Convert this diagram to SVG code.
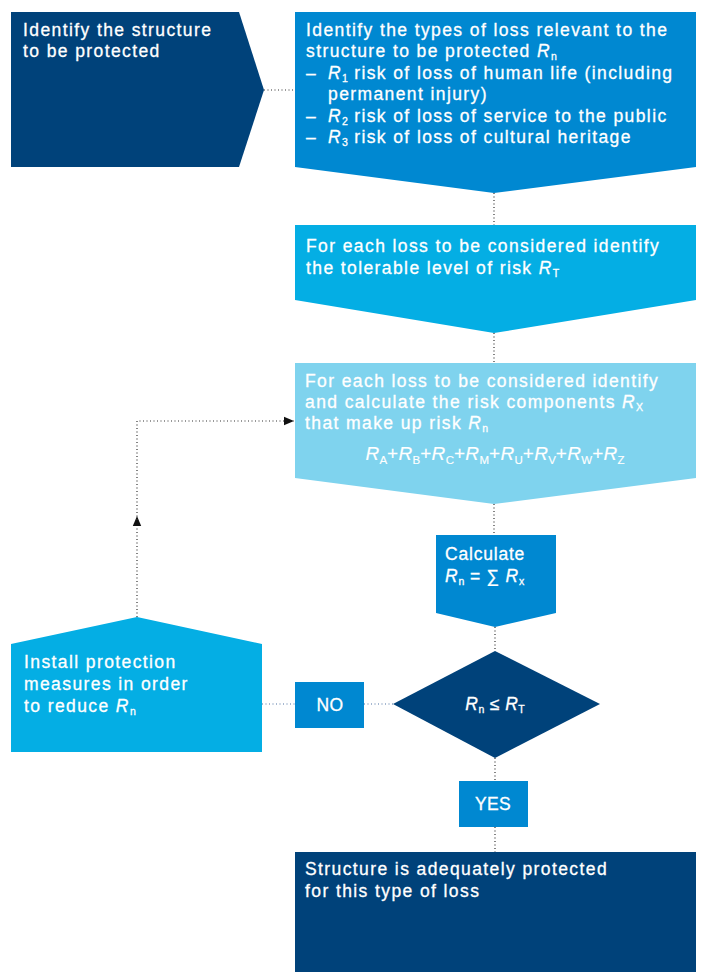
<svg xmlns="http://www.w3.org/2000/svg" width="702" height="972" viewBox="0 0 702 972">
<style>
text{font-family:"Liberation Sans",Arial,sans-serif;font-size:17.5px;fill:#fff;stroke:#fff;stroke-width:0.3px;letter-spacing:1.4px}
.i{font-style:italic}
.s{font-size:10.5px;letter-spacing:0}
.navy{fill:#00427A}
.mid{fill:#0088D1}
.lt{fill:#04AEE4}
.pale{fill:#7FD3EE}
.dot{fill:none;stroke:#333;stroke-width:1.2;stroke-dasharray:1 2.5}
.dotb{fill:none;stroke:#4F73A3;stroke-width:1.2;stroke-dasharray:1 2.5}
</style>
<defs>
<marker id="ah" viewBox="0 0 10 10" refX="10" refY="5" markerWidth="10" markerHeight="10" markerUnits="userSpaceOnUse" orient="auto">
<path d="M0,0.8 L10,5 L0,9.2 Z" fill="#111"/>
</marker>
</defs>
<g id="connectors">
<line class="dot" x1="264" y1="90" x2="295" y2="90"/>
<line class="dot" x1="494" y1="193" x2="494" y2="225"/>
<line class="dot" x1="494" y1="333" x2="494" y2="363"/>
<line class="dot" x1="494" y1="504" x2="494" y2="535"/>
<line class="dot" x1="495" y1="627" x2="495" y2="651"/>
<line class="dot" x1="495" y1="758" x2="495" y2="781"/>
<line class="dot" x1="495" y1="827" x2="495" y2="852"/>
<line class="dotb" x1="364" y1="704" x2="393" y2="704"/>
<line class="dotb" x1="262" y1="704" x2="295" y2="704"/>
<line class="dot" x1="137" y1="617" x2="137" y2="516" marker-end="url(#ah)"/>
<polyline class="dot" points="137,520 137,421 294,421" marker-end="url(#ah)"/>
</g>
<g id="n1">
<polygon class="navy" points="11,12 239,12 264,90 239,167 11,167"/>
<text x="23" y="36">Identify the structure</text>
<text x="23" y="57">to be protected</text>
</g>
<g id="n2">
<polygon class="mid" points="295,12 696,12 696,167 494,193 295,167"/>
<text x="306" y="36">Identify the types of loss relevant to the</text>
<text x="306" y="57">structure to be protected <tspan class="i">R</tspan><tspan class="s" dy="3">n</tspan></text>
<text x="306" y="79">–</text>
<text x="328" y="79"><tspan class="i">R</tspan><tspan class="s" dy="3">1</tspan><tspan dy="-3"> risk of loss of human life (including</tspan></text>
<text x="328" y="100">permanent injury)</text>
<text x="306" y="122">–</text>
<text x="328" y="122"><tspan class="i">R</tspan><tspan class="s" dy="3">2</tspan><tspan dy="-3"> risk of loss of service to the public</tspan></text>
<text x="306" y="143">–</text>
<text x="328" y="143"><tspan class="i">R</tspan><tspan class="s" dy="3">3</tspan><tspan dy="-3"> risk of loss of cultural heritage</tspan></text>
</g>
<g id="n3">
<polygon class="lt" points="295,225 696,225 696,300 494,333 295,300"/>
<text x="306" y="252">For each loss to be considered identify</text>
<text x="306" y="274">the tolerable level of risk <tspan class="i">R</tspan><tspan class="s" dy="3">T</tspan></text>
</g>
<g id="n4">
<polygon class="pale" points="295,363 696,363 696,478 494,504 295,478"/>
<text x="305" y="387">For each loss to be considered identify</text>
<text x="305" y="408">and calculate the risk components <tspan class="i">R</tspan><tspan class="s" dy="3">X</tspan></text>
<text x="305" y="429">that make up risk <tspan class="i">R</tspan><tspan class="s" dy="3">n</tspan></text>
<text x="495" y="460" text-anchor="middle" style="letter-spacing:0.3px;font-size:19px;stroke-width:0.15px"><tspan class="i">R</tspan><tspan class="s" dy="4" style="font-size:11.5px">A</tspan><tspan dy="-4">+</tspan><tspan class="i">R</tspan><tspan class="s" dy="4" style="font-size:11.5px">B</tspan><tspan dy="-4">+</tspan><tspan class="i">R</tspan><tspan class="s" dy="4" style="font-size:11.5px">C</tspan><tspan dy="-4">+</tspan><tspan class="i">R</tspan><tspan class="s" dy="4" style="font-size:11.5px">M</tspan><tspan dy="-4">+</tspan><tspan class="i">R</tspan><tspan class="s" dy="4" style="font-size:11.5px">U</tspan><tspan dy="-4">+</tspan><tspan class="i">R</tspan><tspan class="s" dy="4" style="font-size:11.5px">V</tspan><tspan dy="-4">+</tspan><tspan class="i">R</tspan><tspan class="s" dy="4" style="font-size:11.5px">W</tspan><tspan dy="-4">+</tspan><tspan class="i">R</tspan><tspan class="s" dy="4" style="font-size:11.5px">Z</tspan></text>
</g>
<g id="n5">
<polygon class="mid" points="436,535 556,535 556,613 495,627 436,613"/>
<text x="445" y="560" style="letter-spacing:0.8px">Calculate</text>
<text x="445" y="582" style="letter-spacing:0.8px"><tspan class="i">R</tspan><tspan class="s" dy="3">n</tspan><tspan dy="-3"> = ∑ </tspan><tspan class="i">R</tspan><tspan class="s" dy="3">x</tspan></text>
</g>
<g id="n6">
<polygon class="navy" points="495,651 600,704 495,758 393,704"/>
<text x="495" y="710" text-anchor="middle" style="letter-spacing:0.5px"><tspan class="i">R</tspan><tspan class="s" dy="3">n</tspan><tspan dy="-3"> ≤ </tspan><tspan class="i">R</tspan><tspan class="s" dy="3">T</tspan></text>
</g>
<g id="n7">
<rect class="mid" x="295" y="682" width="69" height="46"/>
<text x="330" y="711" text-anchor="middle" style="letter-spacing:0.3px">NO</text>
</g>
<g id="n8">
<rect class="mid" x="459" y="781" width="69" height="46"/>
<text x="493" y="810" text-anchor="middle" style="letter-spacing:0.3px">YES</text>
</g>
<g id="n9">
<polygon class="lt" points="11,644 137,617 262,644 262,752 11,752"/>
<text x="24" y="668">Install protection</text>
<text x="24" y="690">measures in order</text>
<text x="24" y="712">to reduce <tspan class="i">R</tspan><tspan class="s" dy="3">n</tspan></text>
</g>
<g id="n10">
<rect class="navy" x="295" y="852" width="401" height="120"/>
<text x="305" y="875">Structure is adequately protected</text>
<text x="305" y="897">for this type of loss</text>
</g>
</svg>
